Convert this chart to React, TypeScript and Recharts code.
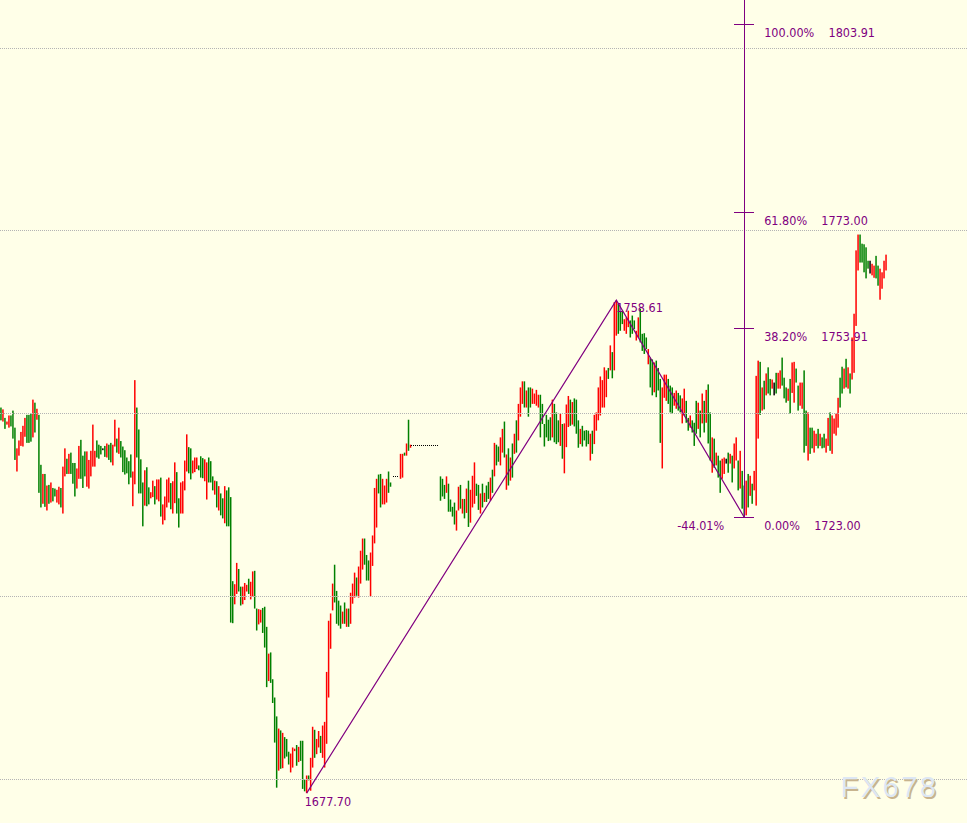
import {
  Bar,
  ComposedChart,
  Line,
  ReferenceDot,
  ReferenceLine,
  XAxis,
  YAxis,
} from 'recharts';

// bar highs / lows, one per slot (null = no trading in that slot)
const highs = [
  1741.0, 1740.7, 1739.3, 1738.7, 1739.7, 1739.7, 1740.5, 1737.7, 1734.3, 1735.6,
  1737.0, 1738.0, 1739.3, 1739.8, 1739.8, 1740.0, 1742.3, 1741.8, 1740.8, 1739.8,
  1731.6, 1730.1, 1730.1, 1728.2, 1728.3, 1728.7, 1727.8, 1727.7, 1727.5, 1728.0,
  1727.8, 1731.3, 1734.3, 1732.6, 1733.4, 1733.6, 1731.9, 1731.9, 1731.0, 1734.7,
  1735.7, 1733.1, 1733.8, 1733.8, 1732.4, 1733.9, 1738.2, 1733.9, 1735.6, 1734.9,
  1734.7, 1734.3, 1734.7, 1735.1, 1734.9, 1735.2, 1734.9, 1739.0, 1735.9, 1737.7,
  1735.5, 1734.6, 1734.0, 1732.8, 1732.2, 1733.3, 1730.5, 1745.5, 1741.0, 1737.4,
  1732.5, 1728.7, 1730.7, 1731.2, 1727.9, 1727.1, 1729.0, 1728.1, 1729.2, 1729.2,
  1729.5, 1725.1, 1726.4, 1729.2, 1729.5, 1728.6, 1728.9, 1732.0, 1730.4, 1726.1,
  1728.7, 1728.9, 1732.3, 1736.6, 1734.5, 1734.3, 1732.3, 1732.8, 1732.8, 1731.5,
  1733.0, 1732.7, 1732.5, 1732.0, 1732.8, 1732.2, 1729.7, 1729.0, 1728.9, 1728.1,
  1726.9, 1726.1, 1728.1, 1727.4, 1727.9, 1726.3, 1712.5, 1712.0, 1715.5, 1714.5,
  1711.6, 1711.6, 1712.2, 1711.9, 1712.9, 1712.4, 1714.1, 1714.2, 1708.0, 1707.9,
  1707.8, 1708.1, 1708.3, 1705.0, 1700.6, 1700.8, 1696.4, 1693.4, 1690.3, 1688.3,
  1688.0, 1687.6, 1686.9, 1686.6, 1684.5, 1684.2, 1685.2, 1685.0, 1685.6, 1685.3,
  1686.3, 1686.3, 1679.9, 1680.6, 1680.6, 1683.5, 1688.6, 1688.1, 1686.6, 1687.9,
  1687.1, 1688.8, 1689.4, 1697.6, 1706.0, 1707.2, 1712.1, 1715.2, 1710.9, 1709.3,
  1708.5, 1707.5, 1709.0, 1708.0, 1708.0, 1710.6, 1712.1, 1713.9, 1713.1, 1714.9,
  1717.5, 1719.5, 1719.5, 1716.8, 1715.9, 1717.2, 1720.0, 1727.8, 1729.3, 1730.0,
  1730.1, 1729.3, 1728.2, 1729.3, 1730.5, 1728.7, null, null, null, null,
  1733.4, 1733.4, 1733.6, 1735.1, 1739.0, 1734.9, null, null, null, null,
  null, null, null, null, null, null, null, null, null, null,
  1729.7, 1729.3, 1728.3, 1729.7, 1728.5, 1725.9, 1724.7, 1725.4, 1724.1, 1728.0,
  1728.3, 1726.0, 1726.0, 1727.7, 1729.0, 1727.5, 1729.8, 1732.0, 1728.5, 1728.3,
  1726.9, 1728.5, 1727.0, 1728.2, 1728.8, 1729.5, 1730.8, 1735.2, 1734.9, 1734.6,
  1736.1, 1737.5, 1738.7, 1733.3, 1734.3, 1732.8, 1735.1, 1736.7, 1738.9, 1741.6,
  1744.3, 1745.3, 1745.3, 1743.8, 1744.3, 1744.3, 1744.1, 1743.3, 1743.9, 1743.1,
  1743.1, 1741.6, 1738.3, 1739.8, 1739.0, 1739.4, 1742.3, 1741.6, 1740.2, 1738.9,
  1740.0, 1738.3, 1738.4, 1741.5, 1742.9, 1742.3, 1741.9, 1742.5, 1742.3, 1738.9,
  1737.5, 1738.0, 1737.2, 1737.3, 1737.2, 1736.7, 1737.2, 1739.8, 1740.2, 1744.3,
  1746.1, 1745.5, 1747.6, 1747.1, 1747.5, 1751.2, 1750.1, 1758.3, 1758.6, 1758.0,
  1756.8, 1756.9, 1755.5, 1755.8, 1756.9, 1755.3, 1756.1, 1755.3, 1753.6, 1755.8,
  1757.2, 1753.1, 1753.2, 1752.5, 1750.6, 1749.2, 1748.9, 1748.4, 1748.7, 1747.5,
  1745.7, 1744.3, 1746.4, 1746.4, 1745.7, 1744.6, 1744.3, 1743.4, 1743.8, 1743.4,
  1743.0, 1742.5, 1744.1, 1742.1, 1739.3, 1739.7, 1738.9, 1738.5, 1742.1, 1741.8,
  1740.5, 1743.3, 1742.1, 1743.9, 1744.8, 1740.2, 1736.1, 1735.9, 1733.6, 1733.1,
  1732.3, 1732.6, 1732.8, 1732.6, 1733.6, 1733.4, 1733.1, 1735.1, 1736.1, 1732.3,
  1733.9, 1730.6, 1728.2, 1729.0, 1730.1, 1729.8, 1728.5, 1730.6, 1746.2, 1748.7,
  1748.5, 1744.3, 1745.4, 1746.6, 1747.6, 1745.7, 1745.6, 1745.1, 1746.7, 1746.7,
  1747.1, 1749.2, 1745.9, 1744.3, 1744.1, 1745.7, 1748.4, 1748.5, 1747.4, 1744.6,
  1745.1, 1745.1, 1747.1, 1740.5, 1740.2, 1737.7, 1737.7, 1737.2, 1736.7, 1737.5,
  1736.7, 1736.1, 1736.7, 1735.9, 1739.3, 1740.2, 1739.7, 1739.2, 1740.0, 1742.6,
  1745.9, 1747.7, 1747.4, 1749.0, 1747.6, 1746.6, 1752.5, 1756.4, 1766.8, 1769.4,
  1769.4, 1767.9, 1767.8, 1767.3, 1765.1, 1765.1, 1764.6, 1764.3, 1765.9, 1764.3,
  1763.8, 1763.2, 1765.1, 1766.1,
];

const lows = [
  1738.9, 1738.7, 1737.5, 1738.2, 1737.7, 1737.9, 1735.9, 1732.4, 1730.5, 1733.1,
  1734.7, 1734.6, 1736.2, 1735.2, 1735.2, 1735.4, 1736.1, 1736.9, 1739.0, 1727.0,
  1724.6, 1725.2, 1724.7, 1724.1, 1725.2, 1725.4, 1725.6, 1726.4, 1725.4, 1725.1,
  1724.6, 1723.6, 1729.7, 1730.1, 1730.1, 1730.1, 1728.5, 1726.4, 1727.7, 1729.3,
  1729.3, 1727.8, 1729.7, 1728.0, 1727.7, 1729.7, 1731.3, 1731.3, 1732.8, 1732.6,
  1733.3, 1734.0, 1732.9, 1732.8, 1732.4, 1732.0, 1731.5, 1734.6, 1733.6, 1733.4,
  1732.8, 1730.4, 1730.0, 1730.2, 1728.4, 1729.5, 1724.8, 1728.4, 1732.8, 1726.9,
  1726.9, 1721.5, 1724.9, 1724.8, 1725.1, 1726.1, 1726.3, 1725.1, 1725.9, 1725.6,
  1723.1, 1721.8, 1722.5, 1724.6, 1725.4, 1724.3, 1723.6, 1725.3, 1723.6, 1721.3,
  1723.6, 1723.6, 1727.4, 1730.5, 1730.2, 1729.2, 1730.2, 1730.4, 1730.9, 1730.7,
  1729.5, 1729.4, 1728.9, 1725.9, 1728.7, 1728.7, 1727.4, 1726.7, 1724.6, 1724.1,
  1723.3, 1722.8, 1722.0, 1721.5, 1721.5, 1705.7, 1705.6, 1708.7, 1710.4, 1710.8,
  1708.5, 1708.7, 1709.4, 1710.8, 1710.4, 1709.5, 1709.9, 1708.0, 1704.4, 1705.4,
  1705.7, 1704.0, 1701.6, 1695.1, 1696.1, 1695.8, 1692.5, 1686.0, 1678.6, 1681.4,
  1681.7, 1681.8, 1683.4, 1683.7, 1682.4, 1681.1, 1681.9, 1684.6, 1682.2, 1682.8,
  1683.0, 1678.4, 1678.0, 1677.7, 1679.8, 1678.1, 1681.9, 1683.5, 1684.1, 1685.2,
  1684.3, 1683.5, 1681.9, 1685.8, 1693.4, 1701.4, 1707.7, 1709.0, 1705.5, 1705.2,
  1704.7, 1705.5, 1705.5, 1705.0, 1705.0, 1705.5, 1708.8, 1709.8, 1710.1, 1709.8,
  1712.1, 1714.4, 1715.2, 1712.6, 1712.6, 1710.0, 1715.0, 1718.7, 1721.3, 1726.9,
  1724.6, 1725.1, 1725.1, 1725.4, 1727.0, 1728.0, null, null, null, null,
  1729.3, 1729.5, 1733.1, 1733.1, 1733.9, 1734.4, null, null, null, null,
  null, null, null, null, null, null, null, null, null, null,
  1725.7, 1726.4, 1726.0, 1727.0, 1723.9, 1723.9, 1723.1, 1721.8, 1720.8, 1724.1,
  1724.4, 1723.6, 1722.8, 1723.7, 1721.4, 1722.1, 1724.6, 1725.2, 1726.5, 1724.2,
  1723.6, 1724.6, 1725.5, 1725.5, 1726.0, 1725.7, 1727.0, 1729.7, 1731.5, 1732.1,
  1731.5, 1733.6, 1732.8, 1727.5, 1728.2, 1729.0, 1729.5, 1733.4, 1733.6, 1735.6,
  1739.5, 1741.6, 1741.0, 1741.0, 1739.5, 1741.0, 1741.6, 1741.6, 1741.3, 1741.0,
  1736.1, 1738.3, 1734.6, 1736.1, 1735.5, 1735.6, 1736.1, 1735.3, 1735.0, 1735.3,
  1734.7, 1732.6, 1730.2, 1734.5, 1737.8, 1738.0, 1738.2, 1737.9, 1736.7, 1734.4,
  1735.0, 1734.6, 1735.6, 1734.6, 1735.0, 1732.3, 1733.4, 1735.0, 1737.2, 1738.9,
  1739.7, 1741.0, 1741.0, 1742.7, 1745.7, 1747.1, 1745.8, 1747.1, 1752.8, 1753.1,
  1753.6, 1754.7, 1753.6, 1753.1, 1754.2, 1752.5, 1753.1, 1753.9, 1752.0, 1752.5,
  1751.7, 1750.3, 1749.8, 1750.6, 1748.1, 1744.3, 1743.0, 1743.5, 1742.7, 1743.8,
  1735.2, 1731.0, 1742.6, 1742.1, 1741.6, 1740.2, 1740.0, 1741.3, 1740.8, 1740.5,
  1740.2, 1738.4, 1739.7, 1738.5, 1737.2, 1737.7, 1736.9, 1734.7, 1736.7, 1737.5,
  1736.1, 1738.4, 1736.9, 1738.5, 1735.1, 1732.3, 1730.3, 1731.1, 1731.5, 1729.5,
  1727.0, 1729.3, 1730.1, 1731.8, 1730.3, 1731.8, 1728.7, 1731.0, 1732.3, 1727.4,
  1727.7, 1724.4, 1723.0, 1723.3, 1724.6, 1726.5, 1725.2, 1727.4, 1724.9, 1735.9,
  1739.8, 1740.5, 1740.7, 1743.0, 1743.3, 1743.0, 1744.1, 1743.0, 1743.3, 1744.1,
  1744.1, 1744.6, 1742.5, 1741.8, 1742.1, 1740.0, 1743.4, 1741.8, 1745.1, 1740.5,
  1741.3, 1740.8, 1733.6, 1734.7, 1732.3, 1733.4, 1734.3, 1733.6, 1734.7, 1734.3,
  1734.7, 1734.3, 1734.4, 1733.6, 1734.7, 1733.9, 1733.4, 1736.7, 1736.4, 1737.7,
  1741.0, 1743.3, 1744.1, 1744.3, 1744.1, 1743.3, 1745.6, 1746.7, 1754.4, 1763.5,
  1764.8, 1764.8, 1763.2, 1762.2, 1763.8, 1763.0, 1762.7, 1762.3, 1762.2, 1761.0,
  1758.7, 1760.5, 1762.2, 1763.5,
];

// r = up (red), g = down (green), k = unchanged, - = empty slot
const barColors = (
  'grgrrgggrr' + 'rrrgggrgrg' + 'grgrgrggrr' + 'grrgrgggrr' + 'gggrrrrrgg' +
  'gkgrggrrgr' + 'ggggggrrgg' + 'ggrggrrgrr' + 'grrrrgrrgg' + 'rrrrggrrrg' +
  'ggrrgggrgr' + 'ggrggggrrg' + 'grrrgrrggr' + 'rgggrggggr' + 'grgggrrrgr' +
  'gggrgrrgrr' + 'grrrrrrggg' + 'grgrgrrrgr' + 'rrgggrrrrg' + 'grrrgg----' +
  'rrgrgr----' + '----------' + 'gggrggggrr' + 'grgrgrrrgg' + 'rgrggrgrgg' +
  'rrgrgrgrgr' + 'rrgrggrrrr' + 'ggggggrggg' + 'rgrrrgrggg' + 'rggggrgrrr' +
  'rrrrgrgrrg' + 'ggrrrgggrr' + 'ggggrggrgg' + 'grrrgggrrg' + 'grrggrgggr' +
  'grgrggrgrg' + 'grrkgrgrrg' + 'rggrgrgrrr' + 'grgrggrkgr' + 'rgggrgrrgg' +
  'rrggrggrrg' + 'rggrrgrrrr' + 'ggrgrgrrrr' + 'gggggkrrgg' + 'rrrr'
).split('');

// swing points of the drawn trend lines (slot index, price)
const swingPoints = [
  { i: 153, p: 1677.7 },
  { i: 308, p: 1758.61 },
  { i: 372, p: 1723.0 },
];

const fibLevels = [
  { pct: '100.00%', p: 1803.91 },
  { pct: '61.80%', p: 1773.0 },
  { pct: '38.20%', p: 1753.91 },
  { pct: '0.00%', p: 1723.0 },
];

const gridLevels = [1680, 1710, 1740, 1770, 1800];

// dotted gap markers
const gapLines = [
  { from: 196, to: 199, p: 1729.6 },
  { from: 205, to: 219, p: 1734.8 },
];

const SLOTS = 484;
const Y_MIN = 1672.8;
const Y_MAX = 1807.9;
const FIB_X = 372;
const PURPLE = '#800080';
const BAR_FILL: Record<string, string> = { r: '#ff0000', g: '#008000', k: '#000000' };
const LABEL_FONT = "'DejaVu Sans Condensed', 'DejaVu Sans', sans-serif";

const chartData = Array.from({ length: SLOTS }, (_, i) => {
  const h = highs[i] ?? null;
  const l = lows[i] ?? null;
  const swing = swingPoints.find((s) => s.i === i);
  return {
    i,
    c: barColors[i] ?? '-',
    range: h != null && l != null ? [l, h] : null,
    swing: swing ? swing.p : null,
  };
});

const PriceBar = (props: any) => {
  const { x, y, width, height, payload } = props;
  if (!payload || !payload.range) return <g />;
  const top = Math.min(y, y + height);
  const h = Math.max(Math.abs(height), 1);
  return (
    <rect
      x={x + width / 2 - 1}
      y={top}
      width={1.5}
      height={h}
      fill={BAR_FILL[payload.c] || '#008000'}
    />
  );
};

const LevelLabel = (props: any) => {
  const { viewBox, txt, offX = 0, offY = 0, anchor = 'start' } = props;
  if (!viewBox) return null;
  return (
    <text
      x={viewBox.x + offX}
      y={viewBox.y + offY}
      textAnchor={anchor}
      fill={PURPLE}
      fontSize={12.5}
      fontFamily={LABEL_FONT}
      style={{ whiteSpace: 'pre', fontStretch: 'condensed' }}
    >
      {txt}
    </text>
  );
};

const App = () => {
  return (
    <div
      style={{
        position: 'absolute',
        left: 0,
        top: 0,
        width: 967,
        height: 823,
        background: '#ffffe8',
        overflow: 'hidden',
      }}
    >
      <ComposedChart
        width={967}
        height={823}
        data={chartData}
        margin={{ top: 0, right: 0, bottom: 0, left: 0 }}
      >
        <XAxis dataKey="i" type="category" hide />
        <YAxis type="number" domain={[Y_MIN, Y_MAX]} allowDataOverflow hide />
        {gridLevels.map((v) => (
          <ReferenceLine
            key={v}
            y={v}
            stroke="#b4b4b4"
            strokeDasharray="1 1"
            shapeRendering="crispEdges"
          />
        ))}
        {gapLines.map((g) => (
          <ReferenceLine
            key={g.from}
            segment={[
              { x: g.from, y: g.p },
              { x: g.to, y: g.p },
            ]}
            stroke="#000000"
            strokeDasharray="1 1"
            shapeRendering="crispEdges"
            ifOverflow="visible"
          />
        ))}
        <Bar dataKey="range" shape={(p: any) => <PriceBar {...p} />} isAnimationActive={false} />
        <Line
          dataKey="swing"
          stroke={PURPLE}
          strokeWidth={1.2}
          dot={false}
          activeDot={false}
          connectNulls
          isAnimationActive={false}
        />
        <ReferenceLine
          segment={[
            { x: FIB_X, y: 1723.0 },
            { x: FIB_X, y: Y_MAX },
          ]}
          stroke={PURPLE}
          shapeRendering="crispEdges"
          ifOverflow="visible"
        />
        {fibLevels.map((f) => (
          <ReferenceLine
            key={f.pct}
            segment={[
              { x: FIB_X - 5, y: f.p },
              { x: FIB_X + 5, y: f.p },
            ]}
            stroke={PURPLE}
            shapeRendering="crispEdges"
            ifOverflow="visible"
          />
        ))}
        {fibLevels.map((f) => (
          <ReferenceDot
            key={'l' + f.pct}
            x={FIB_X}
            y={f.p}
            r={0}
            fill="none"
            stroke="none"
            ifOverflow="visible"
            label={<LevelLabel txt={`${f.pct}    ${f.p.toFixed(2)}`} offX={20} offY={12.5} />}
          />
        ))}
        <ReferenceDot
          x={FIB_X}
          y={1723.0}
          r={0}
          fill="none"
          stroke="none"
          ifOverflow="visible"
          label={<LevelLabel txt="-44.01%" offX={-20} offY={12.5} anchor="end" />}
        />
        <ReferenceDot
          x={swingPoints[1].i}
          y={swingPoints[1].p}
          r={0}
          fill="none"
          stroke="none"
          ifOverflow="visible"
          label={<LevelLabel txt={swingPoints[1].p.toFixed(2)} offX={0} offY={12} />}
        />
        <ReferenceDot
          x={swingPoints[0].i}
          y={swingPoints[0].p}
          r={0}
          fill="none"
          stroke="none"
          ifOverflow="visible"
          label={<LevelLabel txt={swingPoints[0].p.toFixed(2)} offX={-2} offY={12.5} />}
        />
      </ComposedChart>
      <svg
        width={967}
        height={823}
        style={{ position: 'absolute', left: 0, top: 0, pointerEvents: 'none' }}
      >
        <text
          x={842}
          y={798.5}
          fontSize={29}
          fontFamily="'Liberation Sans', Arial, sans-serif"
          letterSpacing={2.5}
          fill="#c8b48e"
        >
          FX678
        </text>
        <text
          x={840.5}
          y={797}
          fontSize={29}
          fontFamily="'Liberation Sans', Arial, sans-serif"
          letterSpacing={2.5}
          fill="#dde7f4"
        >
          FX678
        </text>
      </svg>
    </div>
  );
};

export default App;
